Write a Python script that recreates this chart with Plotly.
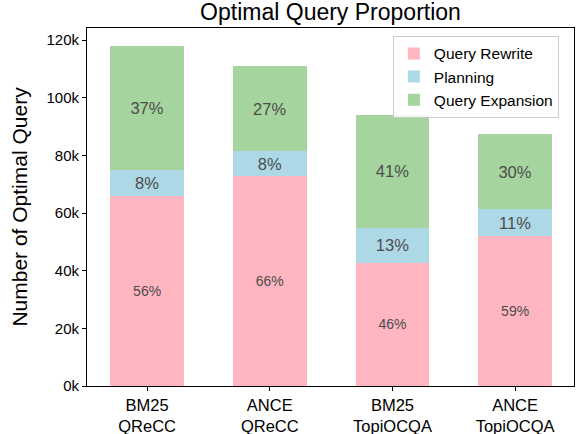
import plotly.graph_objects as go

categories = ["BM25<br>QReCC", "ANCE<br>QReCC", "BM25<br>TopiOCQA", "ANCE<br>TopiOCQA"]
query_rewrite = [65800, 72800, 42800, 51900]
planning = [9100, 8700, 12100, 9500]
query_expansion = [43100, 29500, 39100, 26000]
rewrite_labels = ["56%", "66%", "46%", "59%"]
planning_labels = ["8%", "8%", "13%", "11%"]
expansion_labels = ["37%", "27%", "41%", "30%"]
y_tickvals = [0, 20000, 40000, 60000, 80000, 100000, 120000]
y_ticktext = ["0k", "20k", "40k", "60k", "80k", "100k", "120k"]

x = list(range(len(categories)))
txtcol = "#4d4d4d"
FONT = "Liberation Sans, Arial, Helvetica, sans-serif"
fig = go.Figure()
fig.add_trace(go.Bar(x=x, y=query_rewrite, name="Query Rewrite", marker_color="#FFB6C1",
                     text=rewrite_labels, textposition="inside", insidetextanchor="middle",
                     textfont=dict(size=14, color=txtcol), textangle=0, width=0.6))
fig.add_trace(go.Bar(x=x, y=planning, name="Planning", marker_color="#ADD8E6",
                     text=planning_labels, textposition="inside", insidetextanchor="middle",
                     textfont=dict(size=16.5, color=txtcol), textangle=0, width=0.6))
fig.add_trace(go.Bar(x=x, y=query_expansion, name="Query Expansion", marker_color="#A6D49F",
                     text=expansion_labels, textposition="inside", insidetextanchor="middle",
                     textfont=dict(size=16.5, color=txtcol), textangle=0, width=0.6))

fig.update_traces(marker_line_width=0, constraintext="none")

fig.update_layout(
    width=581, height=434,
    barmode="stack",
    margin=dict(l=87, r=7, t=28, b=48),
    paper_bgcolor="white", plot_bgcolor="white",
    font=dict(family=FONT, color="#000000"),
    title=dict(text="Optimal Query Proportion", xref="paper", x=0.5, xanchor="center",
               yref="container", y=1 - 12 / 434, yanchor="middle",
               font=dict(size=23, color="#000000")),
    showlegend=True,
    legend=dict(x=0.628, y=0.978, xanchor="left", yanchor="top", traceorder="normal",
                bordercolor="#cccccc", borderwidth=1, bgcolor="rgba(255,255,255,0.8)",
                font=dict(family=FONT, size=15.5, color="#000000"),
                itemwidth=30, tracegroupgap=0),
    uniformtext=dict(mode=False),
)
fig.update_xaxes(range=[-0.49, 3.48], tickvals=x, ticktext=categories,
                 showline=True, linecolor="black", linewidth=1, mirror=True,
                 ticks="outside", ticklen=4, tickcolor="black", showgrid=False,
                 automargin=False,
                 tickfont=dict(size=16.5, color="#000000"))
fig.update_yaxes(range=[0, 124200], tickvals=y_tickvals, ticktext=y_ticktext,
                 showline=True, linecolor="black", linewidth=1, mirror=True,
                 ticks="outside", ticklen=4, tickcolor="black", showgrid=False,
                 zeroline=False, automargin=False, tickfont=dict(size=15, color="#000000"),
                 title=dict(text="Number of Optimal Query", font=dict(size=21, color="#000000"), standoff=13))

fig.write_html("out.html", config={"displayModeBar": False},
               post_script="document.body.style.margin='0';document.body.style.padding='0';")
